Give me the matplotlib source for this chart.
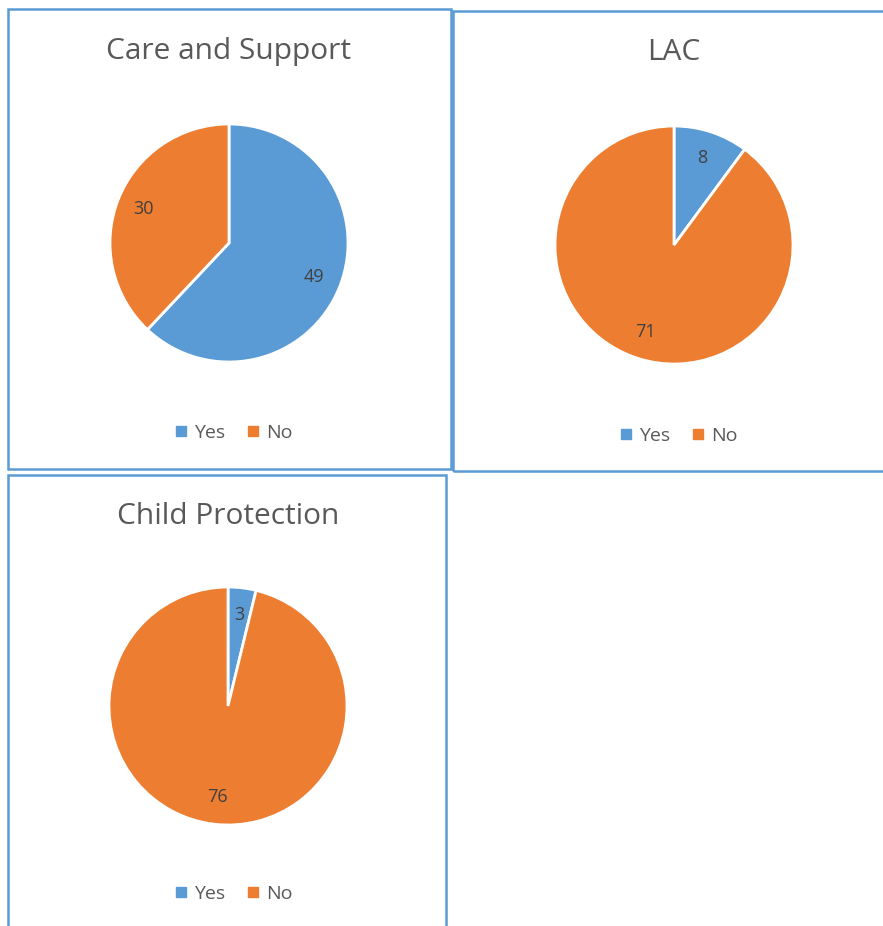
import matplotlib.pyplot as plt
from matplotlib.patches import Rectangle
from matplotlib.lines import Line2D

plt.rcParams['font.family'] = ['Open Sans', 'DejaVu Sans']

# data
titles = ['Care and Support', 'LAC', 'Child Protection']
categories = ['Yes', 'No']
yes_values = [49, 8, 3]
no_values = [30, 71, 76]

colors = ['#5B9BD5', '#ED7D31']
border = '#5B9BD5'

W, H = 883, 926
fig = plt.figure(figsize=(W / 100, H / 100), dpi=100)

# layout in pixels (top-left origin)
boxes = [(8, 9, 451, 469), (453, 11, 890, 471), (8, 475, 446, 935)]
centers = [(229, 243), (674, 245), (228, 706)]
radius = 119
title_pos = [(229, 51), (674, 52), (228, 517)]
legend_pos = [(233, 433), (678, 436), (233, 894)]


def fx(x):
    return x / W


def fy(y):
    return 1 - y / H


# chart borders
for (x0, y0, x1, y1) in boxes:
    fig.patches.append(Rectangle((fx(x0), fy(y1)), fx(x1 - x0), (y1 - y0) / H,
                                 transform=fig.transFigure, fill=False,
                                 edgecolor=border, linewidth=1.8, zorder=0))

for i in range(3):
    cx, cy = centers[i]
    ax = fig.add_axes([fx(cx - radius), fy(cy + radius), 2 * radius / W, 2 * radius / H])
    vals = [yes_values[i], no_values[i]]
    total = sum(vals)
    wedges, texts = ax.pie(vals, colors=colors, startangle=90, counterclock=False,
                           radius=1, wedgeprops=dict(edgecolor='white', linewidth=2),
                           autopct=lambda p, t=total: f'{round(p * t / 100)}',
                           pctdistance=0.77,
                           textprops=dict(color='#404040', fontsize=13))[:2]
    ax.set_xlim(-1, 1)
    ax.set_ylim(-1, 1)
    ax.set_aspect('equal')
    ax.axis('off')

    tx, ty = title_pos[i]
    fig.text(fx(tx), fy(ty), titles[i], ha='center', va='center',
             fontsize=21.5, color='#595959')

    handles = [Line2D([], [], marker='s', linestyle='none', markersize=7,
                      markerfacecolor=c, markeredgecolor=c) for c in colors]
    lx, ly = legend_pos[i]
    fig.legend(handles, categories, loc='center', bbox_to_anchor=(fx(lx), fy(ly)),
               ncol=2, frameon=False, fontsize=14, handlelength=0.8,
               handletextpad=0.3, columnspacing=1.0, labelcolor='#595959')

fig.savefig('out.png', dpi=100)
